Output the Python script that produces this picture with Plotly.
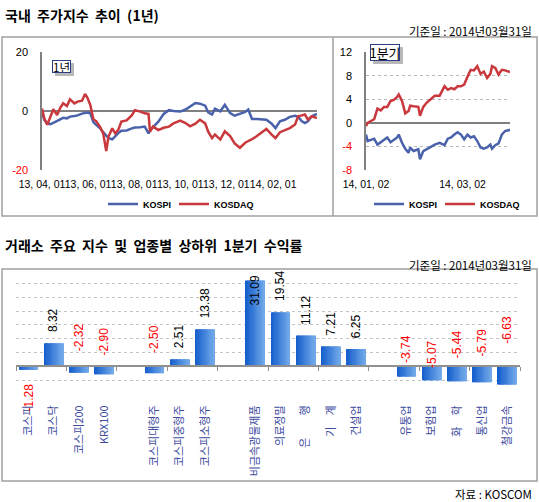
import plotly.graph_objects as go

# ---------------- DATA ----------------
DATES_1Y = [
    "2013-04-01","2013-04-04","2013-04-08","2013-04-12","2013-04-16","2013-04-21","2013-04-25","2013-04-29","2013-05-04","2013-05-08",
    "2013-05-14","2013-05-18","2013-05-24","2013-05-28","2013-05-31","2013-06-04","2013-06-08","2013-06-12","2013-06-17","2013-06-21",
    "2013-06-25","2013-06-28","2013-07-03","2013-07-07","2013-07-11","2013-07-15","2013-07-22","2013-07-29","2013-08-02","2013-08-09",
    "2013-08-15","2013-08-20","2013-08-22","2013-08-26","2013-09-02","2013-09-09","2013-09-16","2013-09-22","2013-10-01","2013-10-08",
    "2013-10-14","2013-10-21","2013-10-27","2013-11-03","2013-11-07","2013-11-12","2013-11-16","2013-11-23","2013-11-29","2013-12-06",
    "2013-12-12","2013-12-19","2013-12-26","2013-12-30","2014-01-04","2014-01-10","2014-01-17","2014-01-23","2014-01-30","2014-02-04",
    "2014-02-10","2014-02-17","2014-02-23","2014-03-02","2014-03-06","2014-03-11","2014-03-15","2014-03-19","2014-03-24","2014-03-31",
]
KOSPI_1Y = [
    -0.2, -3.0, -4.2, -4.5, -4.0, -3.3, -2.8, -2.3, -2.5, -1.9,
    -1.7, -1.5, -0.9, -0.6, -0.5, -0.8, -3.8, -4.8, -5.9, -7.2,
    -8.3, -9.2, -9.6, -8.4, -7.5, -6.7, -6.6, -5.9, -5.6, -5.5,
    -5.3, -7.6, -6.5, -5.5, -3.6, -1.0, 0.3, 0.0, -0.2, 0.5,
    1.5, 2.7, 2.5, 1.8, -0.5, -1.2, 0.8, -0.1, 2.1, -0.7,
    -1.6, -1.0, -0.3, 0.5, -2.7, -2.7, -2.8, -3.0, -4.3, -5.8,
    -3.5, -2.9, -2.0, -1.6, -2.0, -3.5, -4.1, -3.5, -1.8, -1.0,
]
KOSDAQ_1Y = [
    0.8, -2.5, -4.7, -1.9, 0.6, -1.4, 1.0, 2.6, 1.7, 4.0,
    2.6, 3.2, 3.5, 5.8, 4.6, 2.0, -2.8, -3.5, -5.5, -7.6,
    -13.6, -8.7, -5.9, -7.6, -6.4, -3.6, -3.2, -1.4, 0.3, -0.2,
    -0.8, -1.0, -7.0, -5.3, -6.5, -5.7, -5.3, -4.2, -3.3, -4.1,
    -5.2, -4.3, -3.0, -4.2, -7.0, -9.2, -8.0, -9.7, -6.9, -8.5,
    -11.0, -12.5, -10.8, -10.2, -9.6, -8.6, -7.2, -6.1, -8.0, -9.2,
    -7.2, -6.4, -5.8, -4.6, -1.8, -1.5, -1.2, -2.9, -1.8, -2.4,
]
TICKS_1Y = ["2013-04-01", "2013-06-01", "2013-08-01", "2013-10-01", "2013-12-01", "2014-02-01"]
TICKTEXT_1Y = ["13, 04, 01", "13, 06, 01", "13, 08, 01", "13, 10, 01", "13, 12, 01", "14, 02, 01"]

DATES_Q1 = [
    "2014-01-02","2014-01-03","2014-01-05","2014-01-07","2014-01-09","2014-01-11","2014-01-13","2014-01-15","2014-01-17","2014-01-19",
    "2014-01-21","2014-01-22","2014-01-24","2014-01-26","2014-01-28","2014-01-29","2014-01-31","2014-02-03","2014-02-04","2014-02-06",
    "2014-02-08","2014-02-10","2014-02-13","2014-02-16","2014-02-19","2014-02-21","2014-02-23","2014-02-25","2014-02-27","2014-03-01",
    "2014-03-03","2014-03-05","2014-03-07","2014-03-09","2014-03-11","2014-03-13","2014-03-15","2014-03-17","2014-03-19","2014-03-20",
    "2014-03-22","2014-03-24","2014-03-26","2014-03-28","2014-03-31",
]
KOSPI_Q1 = [
    -2.0, -3.1, -2.9, -2.7, -3.7, -3.3, -2.9, -2.5, -3.3, -2.9,
    -2.5, -2.0, -3.4, -4.4, -5.1, -4.2, -4.8, -4.5, -6.2, -4.8,
    -4.5, -4.2, -3.7, -3.4, -3.8, -2.7, -2.5, -2.0, -1.6, -2.0,
    -2.8, -2.0, -2.5, -2.3, -3.1, -4.2, -4.4, -4.2, -3.7, -4.4,
    -3.8, -3.5, -2.0, -1.4, -1.2,
]
KOSDAQ_Q1 = [
    -0.6, 0.0, 0.3, 0.6, 2.4, 2.1, 2.7, 2.7, 3.7, 3.9,
    4.4, 4.8, 3.7, 1.6, 2.0, 2.9, 2.8, 2.7, 1.2, 2.7,
    3.4, 3.9, 4.6, 4.6, 6.2, 5.6, 5.9, 5.7, 6.2, 6.2,
    6.5, 7.8, 9.0, 8.9, 9.6, 8.3, 8.7, 7.6, 8.3, 9.6,
    9.3, 8.2, 9.0, 8.9, 8.6,
]
TICKS_Q1 = ["2014-01-02", "2014-03-02"]
TICKTEXT_Q1 = ["14, 01, 02", "14, 03, 02"]

GROUPS = [
    ["코스피", "코스닥", "코스피200", "KRX100"],
    ["코스피대형주", "코스피중형주", "코스피소형주"],
    ["비금속광물제품", "의료정밀", "은　　행", "기　계", "건설업"],
    ["유통업", "보험업", "화　학", "통신업", "철강금속"],
]
RETURNS = [
    -1.28, 8.32, -2.32, -2.90,
    -2.50, 2.51, 13.38,
    31.09, 19.54, 11.12, 7.21, 6.25,
    -3.74, -5.07, -5.44, -5.79, -6.63,
]

# ---------------- STYLE ----------------
W, H = 539, 502
BLUE = "#4a62ab"
RED = "#c9383c"
GRAY = "#a0a0a0"
NUM_FONT = "Liberation Sans, Arial, sans-serif"
KR_FONT = "Noto Sans CJK KR, sans-serif"
NB = "\u00a0"


def px_x(p):
    return p / W


def px_y(p):
    return 1 - p / H


def wide(s):
    # widen word gaps like the original bitmap font
    return s.replace(" ", NB + " ")


# slot positions for bar categories (one empty slot between groups)
slots, labels = [], []
pos = 0
for g in GROUPS:
    for name in g:
        slots.append(pos)
        labels.append(name)
        pos += 1
    pos += 1
n_slots = pos - 1

fig = go.Figure()

# ---- top-left: 1 year ----
fig.add_trace(go.Scatter(x=DATES_1Y, y=KOSPI_1Y, mode="lines", name="<b>KOSPI</b>",
                         line=dict(color=BLUE, width=2.5), xaxis="x", yaxis="y", legend="legend"))
fig.add_trace(go.Scatter(x=DATES_1Y, y=KOSDAQ_1Y, mode="lines", name="<b>KOSDAQ</b>",
                         line=dict(color=RED, width=2.5), xaxis="x", yaxis="y", legend="legend"))
# ---- top-right: Q1 ----
fig.add_trace(go.Scatter(x=DATES_Q1, y=KOSPI_Q1, mode="lines", name="<b>KOSPI</b>",
                         line=dict(color=BLUE, width=2.5), xaxis="x2", yaxis="y2", legend="legend2"))
fig.add_trace(go.Scatter(x=DATES_Q1, y=KOSDAQ_Q1, mode="lines", name="<b>KOSDAQ</b>",
                         line=dict(color=RED, width=2.5), xaxis="x2", yaxis="y2", legend="legend2"))
# blank spacer entries so the last legend label is not clipped
for lg, xa, ya in [("legend", "x", "y"), ("legend2", "x2", "y2")]:
    fig.add_trace(go.Scatter(x=[None], y=[None], mode="lines", name=" ",
                             line=dict(color="rgba(0,0,0,0)", width=0), xaxis=xa, yaxis=ya, legend=lg,
                             hoverinfo="skip"))

# ---- bottom: bars with horizontal gradient (strips) ----
N_STRIP = 16
BAR_W = 0.75
c0 = (21, 94, 205)
c1 = (112, 168, 232)
sw = BAR_W / N_STRIP
for i in range(N_STRIP):
    t = i / (N_STRIP - 1)
    col = "rgb(%d,%d,%d)" % tuple(int(round(a + (b - a) * t)) for a, b in zip(c0, c1))
    wdt = sw * 1.6 if i < N_STRIP - 1 else sw
    fig.add_trace(go.Bar(x=slots, y=RETURNS, width=wdt, offset=-BAR_W / 2 + i * sw,
                         marker=dict(color=col, line=dict(width=0)), showlegend=False,
                         xaxis="x3", yaxis="y3", hoverinfo="skip"))

# invisible trace for zero-line axis
fig.add_trace(go.Scatter(x=[-0.5, n_slots - 0.5], y=[0, 0], mode="lines", line=dict(width=0),
                         xaxis="x4", yaxis="y3", showlegend=False, hoverinfo="skip"))

# domains
dl = [px_x(42), px_x(317)]
dr = [px_x(366), px_x(510)]
dt = [px_y(170), px_y(52)]
db_x = [px_x(16), px_x(520)]
YR3 = [-10.05, 34.9]
db_y = [px_y(394), px_y(270)]
zero_pos = db_y[0] + (db_y[1] - db_y[0]) * (0 - YR3[0]) / (YR3[1] - YR3[0])

tickfont = dict(family=NUM_FONT, size=11, color="black")
xtickfont = dict(family=NUM_FONT, size=10.5, color="black")
legfont = dict(family=NUM_FONT, size=9, color="black")

layout = dict(
    width=W, height=H, margin=dict(l=0, r=0, t=0, b=0, autoexpand=False),
    paper_bgcolor="white", plot_bgcolor="white", showlegend=True, barmode="overlay",
    xaxis=dict(domain=dl, anchor="y", type="date", range=["2013-04-01", "2014-03-31"],
               tickvals=TICKS_1Y, ticktext=TICKTEXT_1Y, tickangle=0, showgrid=False, showline=False,
               ticks="outside", ticklen=4, tickcolor="rgba(0,0,0,0)", tickfont=xtickfont, zeroline=False,
               automargin=False),
    yaxis=dict(domain=dt, anchor="x", range=[-20.05, 20.05], tickvals=[-20, 0, 20],
               ticktext=["<span style='color:#ff0000'>-20</span>", "0", "20"],
               showgrid=True, gridcolor="#b8b8b8", griddash="dot", gridwidth=1,
               zeroline=True, zerolinecolor="#808080", zerolinewidth=1.5,
               showline=True, linecolor="#808080", linewidth=1.5,
               ticks="outside", ticklen=10, tickcolor="rgba(0,0,0,0)", tickfont=tickfont, automargin=False),
    xaxis2=dict(domain=dr, anchor="y2", type="date", range=["2014-01-02", "2014-03-31"],
                tickvals=TICKS_Q1, ticktext=TICKTEXT_Q1, tickangle=0, showgrid=False, showline=False,
                ticks="outside", ticklen=4, tickcolor="rgba(0,0,0,0)", tickfont=xtickfont, zeroline=False,
                automargin=False),
    yaxis2=dict(domain=dt, anchor="x2", range=[-8.02, 12.02], tickvals=[-8, -4, 0, 4, 8, 12],
                ticktext=["<span style='color:#ff0000'>-8</span>", "<span style='color:#ff0000'>-4</span>",
                          "0", "4", "8", "12"],
                showgrid=True, gridcolor="#b8b8b8", griddash="dot", gridwidth=1,
                zeroline=True, zerolinecolor="#808080", zerolinewidth=1.5,
                showline=True, linecolor="#808080", linewidth=1.5,
                ticks="outside", ticklen=10, tickcolor="rgba(0,0,0,0)", tickfont=tickfont, automargin=False),
    xaxis3=dict(domain=db_x, anchor="y3", range=[-0.5, n_slots - 0.5], tickvals=slots, ticktext=labels,
                tickangle=-90, showgrid=False, showline=False, zeroline=False,
                ticks="outside", ticklen=6, tickcolor="rgba(0,0,0,0)",
                tickfont=dict(family=KR_FONT, size=11, color="#3d4c9e"), automargin=False),
    xaxis4=dict(overlaying="x3", anchor="free", position=zero_pos, range=[-0.5, n_slots - 0.5],
                tickvals=[-0.5 + 2 * k for k in range(n_slots // 2 + 1)], showticklabels=False,
                showgrid=False, zeroline=False, showline=True, linecolor="#909090", linewidth=1.5,
                ticks="outside", ticklen=4, tickcolor="#909090", tickwidth=1, automargin=False),
    yaxis3=dict(domain=db_y, anchor="x3", range=YR3, dtick=5, tick0=0, showticklabels=False,
                showgrid=True, gridcolor="#c4c4c4", griddash="dot", gridwidth=1,
                zeroline=False, showline=False, ticks="", automargin=False),
    legend=dict(orientation="h", x=px_x(103), y=px_y(204), xanchor="left", yanchor="middle",
                font=legfont, itemwidth=30, entrywidth=26, entrywidthmode="pixels",
                bgcolor="rgba(0,0,0,0)", tracegroupgap=0),
    legend2=dict(orientation="h", x=px_x(369), y=px_y(204), xanchor="left", yanchor="middle",
                 font=legfont, itemwidth=30, entrywidth=26, entrywidthmode="pixels",
                 bgcolor="rgba(0,0,0,0)", tracegroupgap=0),
)
fig.update_layout(**layout)

# frames / boxes and tag shadows
shapes = [
    dict(type="rect", xref="paper", yref="paper", x0=px_x(2), x1=px_x(537), y0=px_y(216), y1=px_y(37),
         line=dict(color=GRAY, width=1.5), fillcolor="rgba(0,0,0,0)", layer="below"),
    dict(type="line", xref="paper", yref="paper", x0=px_x(333), x1=px_x(333), y0=px_y(216), y1=px_y(37),
         line=dict(color=GRAY, width=1.5)),
    dict(type="rect", xref="paper", yref="paper", x0=px_x(2), x1=px_x(537), y0=px_y(481), y1=px_y(269),
         line=dict(color=GRAY, width=1.5), fillcolor="rgba(0,0,0,0)", layer="below"),
]
TAGS = [("1년", 52, 60, 17, 11, 11.5), ("1분기", 370, 44, 28, 15, 13)]
for txt, x0, y0, w, h, fs in TAGS:
    shapes.append(dict(type="rect", xref="paper", yref="paper", x0=px_x(x0 + 3), x1=px_x(x0 + w + 5),
                       y0=px_y(y0 + h + 5), y1=px_y(y0 + 3), line=dict(width=0), fillcolor="#b8b8b8",
                       layer="above"))
fig.update_layout(shapes=shapes)

ann = []
# titles
ann.append(dict(text="<b>" + wide("국내 주가지수 추이 (1년)") + "</b>", x=px_x(3), y=px_y(3), xref="paper",
                yref="paper", xanchor="left", yanchor="top", showarrow=False,
                font=dict(family=KR_FONT, size=14, color="black")))
ann.append(dict(text="기준일 : 2014년03월31일", x=px_x(534), y=px_y(21), xref="paper", yref="paper",
                xanchor="right", yanchor="top", showarrow=False, font=dict(family=KR_FONT, size=11.5, color="black")))
ann.append(dict(text="<b>" + wide("거래소 주요 지수 및 업종별 상하위 1분기 수익률") + "</b>", x=px_x(3), y=px_y(233),
                xref="paper", yref="paper", xanchor="left", yanchor="top", showarrow=False,
                font=dict(family=KR_FONT, size=14, color="black")))
ann.append(dict(text="기준일 : 2014년03월31일", x=px_x(534), y=px_y(255), xref="paper", yref="paper",
                xanchor="right", yanchor="top", showarrow=False, font=dict(family=KR_FONT, size=11.5, color="black")))
ann.append(dict(text="자료 : KOSCOM", x=px_x(534), y=px_y(484), xref="paper", yref="paper",
                xanchor="right", yanchor="top", showarrow=False, font=dict(family=KR_FONT, size=11.5, color="black")))

# period tags
for txt, x0, y0, w, h, fs in TAGS:
    ann.append(dict(text=txt, x=px_x(x0), y=px_y(y0), xref="paper", yref="paper", xanchor="left", yanchor="top",
                    showarrow=False, font=dict(family=KR_FONT, size=fs, color="black"), width=w, height=h,
                    bgcolor="white", borderpad=0, borderwidth=1, bordercolor="#2e3c80"))

# value labels
NEG_SHIFT = {2: 13, 3: 9, 4: 11, 12: 1, 13: -4, 14: 6, 15: 8, 16: 21}
for i, (s, v) in enumerate(zip(slots, RETURNS)):
    color = "black" if v >= 0 else "#ff0000"
    txt = "%.2f" % v
    base = dict(x=s, xref="x3", yref="y3", text=txt, textangle=-90, showarrow=False,
                font=dict(family=NUM_FONT, size=12, color=color))
    if v >= 0:
        if (YR3[1] - v) * (124 / (YR3[1] - YR3[0])) < 40:
            base.update(y=YR3[1], yanchor="top", yshift=-3)
        else:
            base.update(y=v, yanchor="bottom", yshift=9)
    elif i in NEG_SHIFT:
        base.update(y=0, yanchor="bottom", yshift=NEG_SHIFT[i])
    else:
        base.update(y=v, yanchor="top", yshift=-12)
    ann.append(base)

fig.update_layout(annotations=ann)
fig.write_html("out.html", config={"displayModeBar": False},
               post_script="document.body.style.margin='0';document.body.style.overflow='hidden';")
